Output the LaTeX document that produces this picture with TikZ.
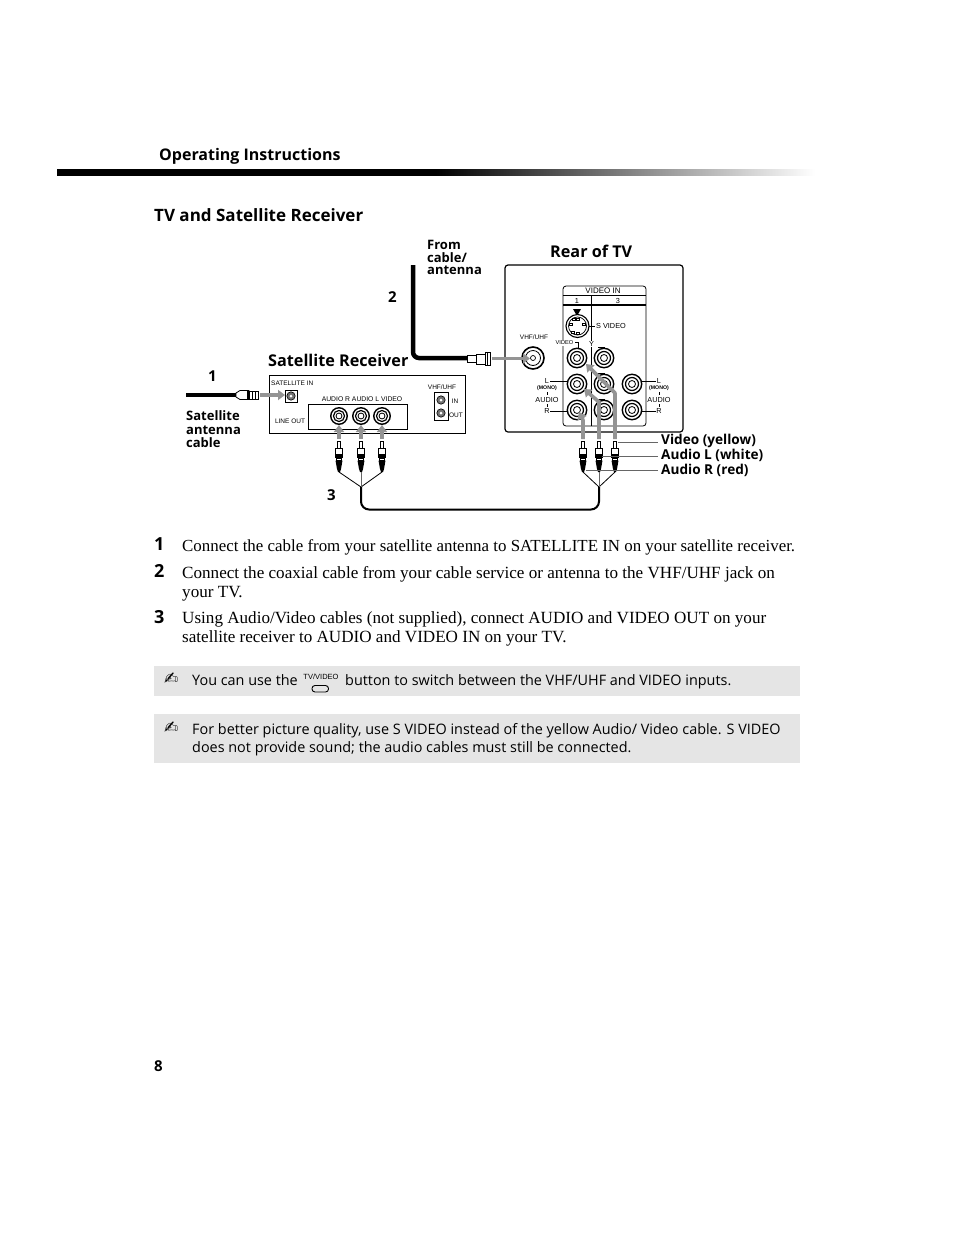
\documentclass[tikz,border=0pt]{standalone}
\usepackage{fontspec}
\setmainfont{Liberation Serif}
\newfontfamily\ssf{Open Sans}
\newfontfamily\hlv{Liberation Sans}
\newfontfamily\djv{DejaVu Sans}
\usetikzlibrary{arrows.meta,shadings}
\pgfdeclarehorizontalshading{fadebar}{100bp}{color(0bp)=(black); color(50bp)=(black); color(75bp)=(white); color(100bp)=(white)}
\tikzset{
 lab/.style={anchor=base west,inner sep=0,font=\ssf\bfseries\fontsize{16.2}{16.2}\selectfont},
 small/.style={anchor=base west,inner sep=0,font=\ssf\bfseries\fontsize{13}{13}\selectfont},
 side/.style={anchor=base west,inner sep=0,font=\ssf\bfseries\fontsize{13.6}{13.6}\selectfont},
 num/.style={anchor=base west,inner sep=0,font=\ssf\bfseries\fontsize{15}{15}\selectfont},
 bignum/.style={anchor=base west,inner sep=0,font=\ssf\bfseries\fontsize{18}{18}\selectfont},
 body/.style={anchor=base west,inner sep=0,font=\fontsize{17.1}{17.1}\selectfont},
 note/.style={anchor=base west,inner sep=0,font=\ssf\fontsize{14.4}{14.4}\selectfont},
 tiny/.style={inner sep=0,font=\hlv\fontsize{6.5}{6.5}\selectfont},
 tinyb/.style={inner sep=0,font=\hlv\fontsize{7.3}{7.3}\selectfont},
 tinym/.style={inner sep=0,font=\hlv\bfseries\fontsize{5.2}{5.2}\selectfont},
 garrow/.style={draw=black!42,line width=3.6pt,line join=round,-{Triangle[length=7pt,width=10pt]}},
 leader/.style={draw=black!60,line width=0.7pt},
 cable/.style={draw=black,line width=2pt,rounded corners=8pt},
 fat/.style={draw=black,line width=4.5pt,rounded corners=6pt},
 fine/.style={line width=0.6pt},
}
% concentric RCA jack
\newcommand{\rca}[3][1]{%
 \draw[line width=1.4pt] (#2,#3) circle (9.7pt*#1);
 \draw[line width=1.2pt] (#2,#3) circle (6.5pt*#1);
 \draw[line width=0.8pt] (#2,#3) circle (3.5pt*#1);
}
% RCA plug: x, top y
\newcommand{\plug}[2]{%
 \begin{scope}[shift={(#1,#2)}]
 \fill[white,draw=black,line width=0.7pt] (-1.3,0) -- (-1.3,7) -- (1.3,7) -- (1.3,0) -- cycle;
 \fill[white,draw=black,line width=0.8pt] (-3.8,7) rectangle (3.8,13);
 \fill[black] (-3.8,13) rectangle (3.8,17);
 \fill[white,draw=black,line width=0.6pt] (-2.5,17) rectangle (2.5,19.5);
 \fill[black] (-3.5,19.5) -- (3.5,19.5) -- (2,28) -- (1,31) -- (-1,31) -- (-2,28) -- cycle;
 \end{scope}}
% small F jack
\newcommand{\fj}[2]{%
 \fill[black!55,draw=black,line width=0.6pt] (#1,#2) circle (4.2pt);
 \fill[white] (#1,#2) circle (1.5pt);
}
\begin{document}
\begin{tikzpicture}[x=1pt,y=-1pt]
\useasboundingbox (0,0) rectangle (954,1235);
\fill[white] (0,0) rectangle (954,1235);
% header
\node[anchor=base west,inner sep=0,font=\ssf\bfseries\fontsize{16}{16}\selectfont] (hdr) at (159,160) {Operating Instructions};
\shade[shading=fadebar] (57,169) rectangle (815,175);
\node[anchor=base west,inner sep=0,font=\ssf\bfseries\fontsize{17}{17}\selectfont] (title) at (154,221) {TV and Satellite Receiver};
% labels
\node[lab] (rear) at (550,257) {Rear of TV};
\node[lab] (satr) at (268,366) {Satellite Receiver};
\node[small] (f1) at (427,249) {From};
\node[small] (f2) at (427,262) {cable/};
\node[small] (f3) at (427,274) {antenna};
\node[small] (s1) at (186,420) {Satellite};
\node[small] (s2) at (186,434) {antenna};
\node[small] (s3) at (186,447) {cable};
\node[num] (n1) at (208,381) {1};
\node[num] (n2) at (388,302) {2};
\node[num] (n3) at (327,500) {3};
\node[side] (lv) at (661,444) {Video (yellow)};
\node[side] (ll) at (661,459) {Audio L (white)};
\node[side] (lr) at (661,474) {Audio R (red)};
% TV
\draw[line width=1.2pt,rounded corners=3pt] (505,265) rectangle (683,432);
\draw[line width=0.8pt,rounded corners=3pt] (563,426) -- (563,286) -- (646,286) -- (646,426) -- cycle;
\draw[line width=0.8pt] (563,295) -- (646,295);
\draw[line width=1.2pt] (563,305) -- (646,305);
\draw[line width=0.8pt] (591,295) -- (591,426);
\node[inner sep=0,font=\hlv\fontsize{8}{8}\selectfont] (vin) at (603,290.5) {VIDEO IN};
\node[tinyb] (one) at (577,300.5) {1};
\node[tinyb] (three) at (618,300.5) {3};
\fill[black] (573,309) -- (581,309) -- (577,316) -- cycle;
% s-video
\draw[line width=1.1pt,fill=white] (577.5,326) circle (11.5pt);
\draw[line width=0.7pt] (577.5,326) circle (9pt);
\foreach \a/\b in {574/319,578/319,571/324.5,584/324.5,573/332,578/333}{\fill[white,draw=black,line width=0.5pt] (\a-1.6,\b-1.2) rectangle (\a+1.6,\b+1.2);}
\draw[fine] (589,326) -- (595,326);
\node[tinyb,anchor=west] (sv) at (596,326) {S VIDEO};
% VHF jack
\node[tiny] (vhf) at (534,337) {VHF/UHF};
\draw[line width=1.6pt] (533,358) circle (11pt);
\draw[line width=0.8pt] (533,358) circle (7.5pt);
\draw[line width=0.7pt] (533,358) circle (2.5pt);
% jacks
\rca{577}{358}\rca{604}{358}
\rca{577}{384}\rca{604}{384}\rca{632}{384}
\rca{577}{410}\rca{604}{410}\rca{632}{410}
\node[inner sep=.5pt,fill=white,font=\hlv\fontsize{5.7}{5.7}\selectfont] (vid) at (564.5,343) {VIDEO};
\draw[fine] (575,342) -- (578,342) -- (578,349);
\node[tinyb,fill=white,inner sep=.5pt] (y) at (591.5,344) {Y};
\draw[fine] (598,347) -- (604,347) -- (604,349);
\draw[fine] (598,373) -- (604,373) -- (604,375);
\draw[fine] (598,399) -- (604,399) -- (604,401);
% left labels
\node[tinyb] (l1) at (547,381) {L};
\draw[fine] (550,381) -- (568,381);
\node[tinym] (m1) at (547,388.5) {(MONO)};
\draw[fine] (547,392) -- (547,395);
\node[tinyb] (a1) at (547,400) {AUDIO};
\draw[fine] (547,404) -- (547,407);
\node[tinyb] (r1) at (547,411) {R};
\draw[fine] (550,411) -- (567,411);
% right labels
\node[tinyb] (l2) at (659,381) {L};
\draw[fine] (641,381) -- (656,381);
\node[tinym] (m2) at (659,388.5) {(MONO)};
\draw[fine] (659,392) -- (659,395);
\node[tinyb] (a2) at (659,400) {AUDIO};
\draw[fine] (659,404) -- (659,407);
\node[tinyb] (r2) at (659,411) {R};
\draw[fine] (642,411) -- (656,411);
% receiver
\draw[line width=1pt] (269,375) rectangle (465,433);
\draw[line width=1pt] (308,404) rectangle (407,429);
\node[tiny,anchor=west] (si) at (271,383) {SATELLITE IN};
\node[inner sep=0,font=\hlv\fontsize{6.8}{6.8}\selectfont] (arl) at (362,399) {AUDIO R AUDIO L VIDEO};
\node[tiny] (lo) at (290,421) {LINE OUT};
\node[tiny] (rv) at (442,387) {VHF/UHF};
\node[tiny] (rin) at (455,401) {IN};
\node[tiny] (rout) at (456,415) {OUT};
\draw[line width=1pt] (285,390) rectangle (297,402);
\fj{291}{396}
\draw[line width=1pt] (434,392) rectangle (448,420);
\fj{441}{400}\fj{441}{413}
\rca[.85]{339}{416}\rca[.85]{361}{416}\rca[.85]{382}{416}
% satellite cable
\draw[line width=4.5pt] (186,395) -- (236,395);
\draw[fill=white,line width=0.8pt] (236,393) -- (240,390.5) -- (249,390.5) -- (249,399.5) -- (240,399.5) -- (236,397) -- cycle;
\fill[black] (247,390) rectangle (249,400);
\draw[fill=white,line width=0.8pt] (249,391) rectangle (258,399);
\draw[line width=0.7pt] (252,391) -- (252,399) (255,391) -- (255,399);
\coordinate (c1end) at (260,395);
\coordinate (satjack) at (285,395);
\draw[garrow] (c1end) -- (satjack);
% antenna cable
\coordinate (a0) at (413,265);
\coordinate (a1c) at (413,358);
\coordinate (a2c) at (467,358);
\draw[fat] (a0) -- (a1c) -- (a2c);
\draw[fill=white,line width=0.8pt] (467,355.5) rectangle (476,362.5);
\draw[fill=white,line width=0.8pt] (476,354) rectangle (485,364);
\draw[fill=white,line width=0.8pt] (485,352.5) rectangle (490,365);
\draw[line width=0.6pt] (487.5,352.5) -- (487.5,365);
\coordinate (a3c) at (492,358.5);
\coordinate (vhfj) at (530,358.5);
\draw[garrow] (a3c) -- (vhfj);
% gray arrows, left
\foreach \x in {339,361,382}{\draw[garrow] (\x,439) -- (\x,425);}
% gray arrows, right
\draw[garrow] (583,439) -- (583,420) -- (579,412);
\draw[garrow] (599,439) -- (599,402) -- (584,389);
\draw[garrow] (615,439) -- (615,393) -- (586,364);
% plugs
\plug{339}{441}\plug{361}{441}\plug{382}{441}
\plug{583}{441}\plug{599}{441}\plug{615}{441}
% wires
\coordinate (ml) at (361,487);
\coordinate (mr) at (599,487);
\foreach \x in {339,382}{\draw[line width=.8pt] (\x,472) -- (ml);}
\draw[line width=.8pt,black!60] (361,472) -- (ml);
\foreach \x in {583,615}{\draw[line width=.8pt] (\x,472) -- (mr);}
\draw[line width=.8pt,black!60] (599,472) -- (mr);
\draw[cable] (ml) -- (361,509.5) -- (599,509.5) -- (mr);
% leaders
\draw[leader] (618,442) -- (658,442);
\draw[leader] (602,456) -- (658,456);
\draw[leader] (586,470) -- (658,470);
% steps
\node[bignum] (b1) at (154,550) {1};
\node[bignum] (b2) at (154,577) {2};
\node[bignum] (b3) at (154,623) {3};
\node[body,font=\fontsize{16.9}{16.9}\selectfont] (t1) at (182,551) {Connect the cable from your satellite antenna to SATELLITE IN on your satellite receiver.};
\node[body] (t2) at (182,578) {Connect the coaxial cable from your cable service or antenna to the VHF/UHF jack on};
\node[body] (t2b) at (182,597) {your TV.};
\node[body] (t3) at (182,623) {Using Audio/Video cables (not supplied), connect AUDIO and VIDEO OUT on your};
\node[body] (t3b) at (182,642) {satellite receiver to AUDIO and VIDEO IN on your TV.};
% notes
\fill[black!10] (154,666) rectangle (800,696);
\fill[black!10] (154,714) rectangle (800,763);
\node[anchor=base west,inner sep=0,font=\djv\fontsize{17}{17}\selectfont] (p1) at (164,684) {✍};
\node[anchor=base west,inner sep=0,font=\djv\fontsize{17}{17}\selectfont] (p2) at (164,733) {✍};
\node[note] (n1a) at (192,685) {You can use the};
\node[inner sep=0,font=\hlv\fontsize{7.5}{7.5}\selectfont] (tvv) at (321,677) {TV/VIDEO};
\draw[line width=0.9pt,rounded corners=3pt] (312,685.5) rectangle (328.5,692);
\node[note] (n1b) at (345,685) {button to switch between the VHF/UHF and VIDEO inputs.};
\node[note] (n2a) at (192,734) {For better picture quality, use S VIDEO instead of the yellow Audio/ Video cable. S VIDEO};
\node[note] (n2b) at (192,752) {does not provide sound; the audio cables must still be connected.};
\node[anchor=base west,inner sep=0,font=\ssf\bfseries\fontsize{15}{15}\selectfont] (pg) at (154,1071) {8};
\end{tikzpicture}
\end{document}
